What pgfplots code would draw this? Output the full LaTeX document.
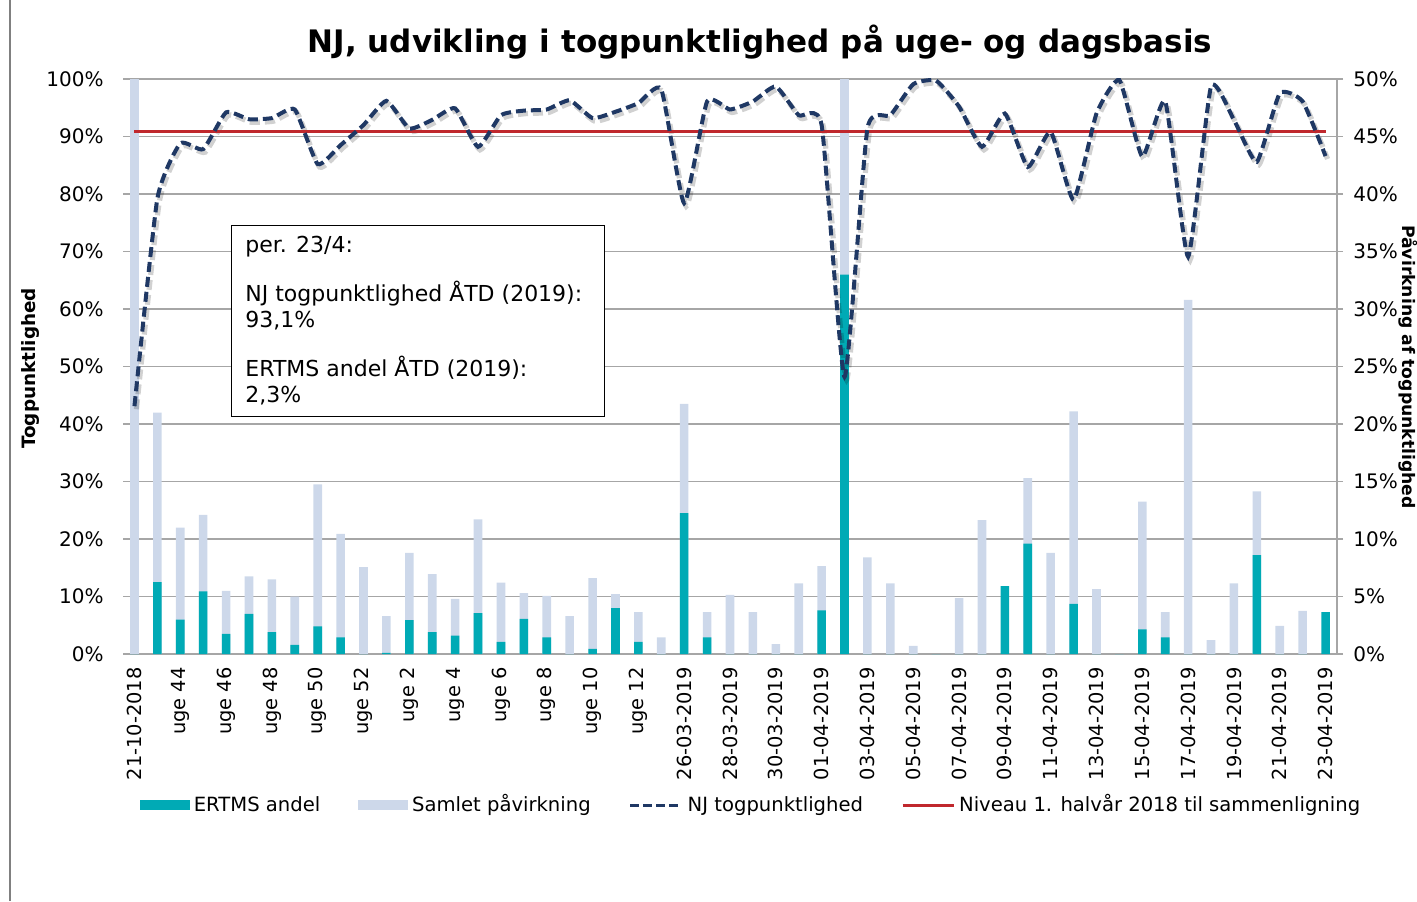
\documentclass[border=0pt]{standalone}
\usepackage{fontspec}
\setmainfont{DejaVu Sans}
\usepackage{pgfplots}
\pgfplotsset{compat=1.18}
\usepackage{pgfplotstable}

\definecolor{ertms}{RGB}{0,170,181}
\definecolor{samlet}{RGB}{205,216,234}
\definecolor{njline}{RGB}{31,56,100}
\definecolor{niveau}{RGB}{192,40,45}
\definecolor{gridgray}{RGB}{166,166,166}

% bars, right axis scale (0-50 %)
\pgfplotstableread{
x samlet ertms
0 50 0
1 21.0 6.25
2 11.0 3.0
3 12.1 5.45
4 5.5 1.75
5 6.75 3.5
6 6.5 1.9
7 5.0 0.8
8 14.75 2.4
9 10.45 1.45
10 7.55 0
11 3.3 0.1
12 8.8 2.95
13 6.95 1.9
14 4.8 1.6
15 11.7 3.55
16 6.2 1.05
17 5.3 3.05
18 5.05 1.45
19 3.3 0
20 6.6 0.45
21 5.2 4.0
22 3.65 1.05
23 1.45 0
24 21.75 12.25
25 3.65 1.45
26 5.15 0
27 3.65 0
28 0.85 0
29 6.15 0
30 7.65 3.8
31 50 33.0
32 8.4 0
33 6.15 0
34 0.7 0
35 0 0
36 4.85 0
37 11.65 0
38 0 5.9
39 15.3 9.6
40 8.8 0
41 21.1 4.35
42 5.65 0
43 0 0
44 13.25 2.15
45 3.65 1.45
46 30.8 0
47 1.2 0
48 6.15 0
49 14.15 8.6
50 2.45 0
51 3.75 0
52 0 3.65
}\bardata

% NJ togpunktlighed, left axis (0-100 %)
\pgfplotstableread{
x nj
0 43.1
1 79.2
2 88.8
3 87.8
4 94.2
5 93.0
6 93.2
7 94.7
8 85.2
9 88.5
10 92.0
11 96.2
12 91.4
13 92.9
14 94.9
15 88.2
16 93.7
17 94.5
18 94.7
19 96.3
20 93.2
21 94.3
22 95.8
23 98.2
24 78.4
25 96.1
26 94.7
27 96.1
28 98.7
29 93.7
30 92.0
31 48.2
32 91.4
33 93.7
34 99.1
35 99.7
36 95.2
37 88.2
38 94.0
39 84.7
40 90.8
41 79.0
42 94.0
43 99.8
44 86.5
45 96.1
46 69.1
47 98.7
48 92.9
49 85.6
50 97.5
51 96.1
52 86.6
}\njdata

\begin{document}
\begin{tikzpicture}
\path[use as bounding box] (0,0) rectangle (708.5pt,450.5pt);
\draw[gray, line width=1pt] (5pt,0) -- (5pt,450.5pt);

\node[anchor=base, font=\fontsize{15.5}{18}\selectfont\bfseries] at (380pt,424.25pt)
  {NJ, udvikling i togpunktlighed på uge- og dagsbasis};

% bars on the right axis
\begin{axis}[
  at={(61.5pt,123.5pt)}, anchor=south west,
  scale only axis, width=607pt, height=287.5pt,
  xmin=-0.5, xmax=52.5, ymin=0, ymax=50,
  axis y line*=right, axis x line*=bottom,
  axis line style={gridgray, line width=0.75pt, -},
  ytick={0,5,...,50},
  yticklabel={\pgfmathprintnumber{\tick}\%},
  /pgf/number format/assume math mode=true,
  yticklabel style={anchor=west, inner sep=0pt, xshift=5pt, font=\fontsize{10}{12}\selectfont},
  ytick style={gridgray, line width=0.75pt},
  tick align=outside, major tick length=3pt,
  xtick={0,2,...,52},
  xticklabels={21-10-2018,uge 44,uge 46,uge 48,uge 50,uge 52,uge 2,uge 4,uge 6,uge 8,uge 10,uge 12,26-03-2019,28-03-2019,30-03-2019,01-04-2019,03-04-2019,05-04-2019,07-04-2019,09-04-2019,11-04-2019,13-04-2019,15-04-2019,17-04-2019,19-04-2019,21-04-2019,23-04-2019},
  xticklabel style={rotate=90, anchor=east, inner sep=0pt, xshift=-3.5pt, font=\fontsize{9.7}{12}\selectfont},
  xtick style={draw=none},
  ymajorgrids, grid style={gridgray, line width=0.75pt},
  ybar, bar width=4.3pt, bar shift=0pt,
]
\addplot[fill=samlet, draw=none] table[x=x, y=samlet]{\bardata};
\addplot[fill=ertms, draw=none] table[x=x, y=ertms]{\bardata};
\end{axis}

% shadow of the dashed line (same data, slightly offset)
\begin{axis}[
  at={(62.5pt,122pt)}, anchor=south west,
  scale only axis, width=607pt, height=287.5pt,
  xmin=-0.5, xmax=52.5, ymin=0, ymax=100,
  hide axis, clip=false,
]
\addplot[black, opacity=0.18, line width=2.6pt, dash pattern=on 5pt off 2.5pt, smooth, tension=0.3] table[x=x, y=nj]{\njdata};
\end{axis}

% lines on the left axis
\begin{axis}[
  at={(61.5pt,123.5pt)}, anchor=south west,
  scale only axis, width=607pt, height=287.5pt,
  xmin=-0.5, xmax=52.5, ymin=0, ymax=100,
  axis y line*=left, hide x axis,
  y axis line style={draw=none},
  ytick={0,10,...,100}, ytick style={draw=none},
  yticklabel={\pgfmathprintnumber{\tick}\%},
  /pgf/number format/assume math mode=true,
  yticklabel style={anchor=east, inner sep=0pt, xshift=-9.5pt, font=\fontsize{10}{12}\selectfont},
  clip=false,
  legend columns=4,
  legend style={at={(0.014,-0.2626)}, anchor=west, draw=none, fill=none,
    inner sep=0pt, outer sep=0pt, font=\fontsize{9.8}{12}\selectfont,
    nodes={inner sep=0pt, text height=1.6ex, text depth=0.45ex},
    /tikz/every odd column/.append style={column sep=2pt},
    /tikz/every even column/.append style={column sep=19pt}},
  legend cell align=left,
]
\addplot[niveau, line width=1.5pt, forget plot] coordinates {(0,90.9) (52,90.9)};
\addplot[njline, line width=2pt, dash pattern=on 5pt off 2.5pt, smooth, tension=0.3, forget plot] table[x=x, y=nj]{\njdata};
\addlegendimage{legend image code/.code={\fill[ertms] (0pt,-2.25pt) rectangle (24.5pt,2.25pt);}}
\addlegendentry{ERTMS andel}
\addlegendimage{legend image code/.code={\fill[samlet] (0pt,-2.25pt) rectangle (24.5pt,2.25pt);}}
\addlegendentry{Samlet påvirkning}
\addlegendimage{legend image code/.code={\draw[njline, line width=1.5pt, dash pattern=on 4.5pt off 2pt] (0pt,0pt) -- (26pt,0pt);}}
\addlegendentry{NJ togpunktlighed}
\addlegendimage{legend image code/.code={\draw[niveau, line width=1.5pt] (0pt,0pt) -- (25.5pt,0pt);}}
\addlegendentry{Niveau 1. halvår 2018 til sammenligning}
\end{axis}

\node[rotate=90, anchor=base, font=\fontsize{9.2}{11}\selectfont\bfseries] at (17.5pt,266.25pt) {Togpunktlighed};
\node[rotate=-90, anchor=base, font=\fontsize{8.6}{10}\selectfont\bfseries] at (701.3pt,267pt) {Påvirkning af togpunktlighed};

\draw[black, line width=0.5pt, fill=white] (115.5pt,242.5pt) rectangle (302pt,337.5pt);
\begin{scope}[every node/.style={anchor=base west, inner sep=0pt, font=\fontsize{11}{13}\selectfont}]
\node at (122.5pt,324.15pt) {per. 23/4:};
\node at (122.5pt,299.65pt) {NJ togpunktlighed ÅTD (2019):};
\node at (122.5pt,286.65pt) {93,1\%};
\node at (122.5pt,262.15pt) {ERTMS andel ÅTD (2019):};
\node at (122.5pt,249.15pt) {2,3\%};
\end{scope}
\end{tikzpicture}
\end{document}
